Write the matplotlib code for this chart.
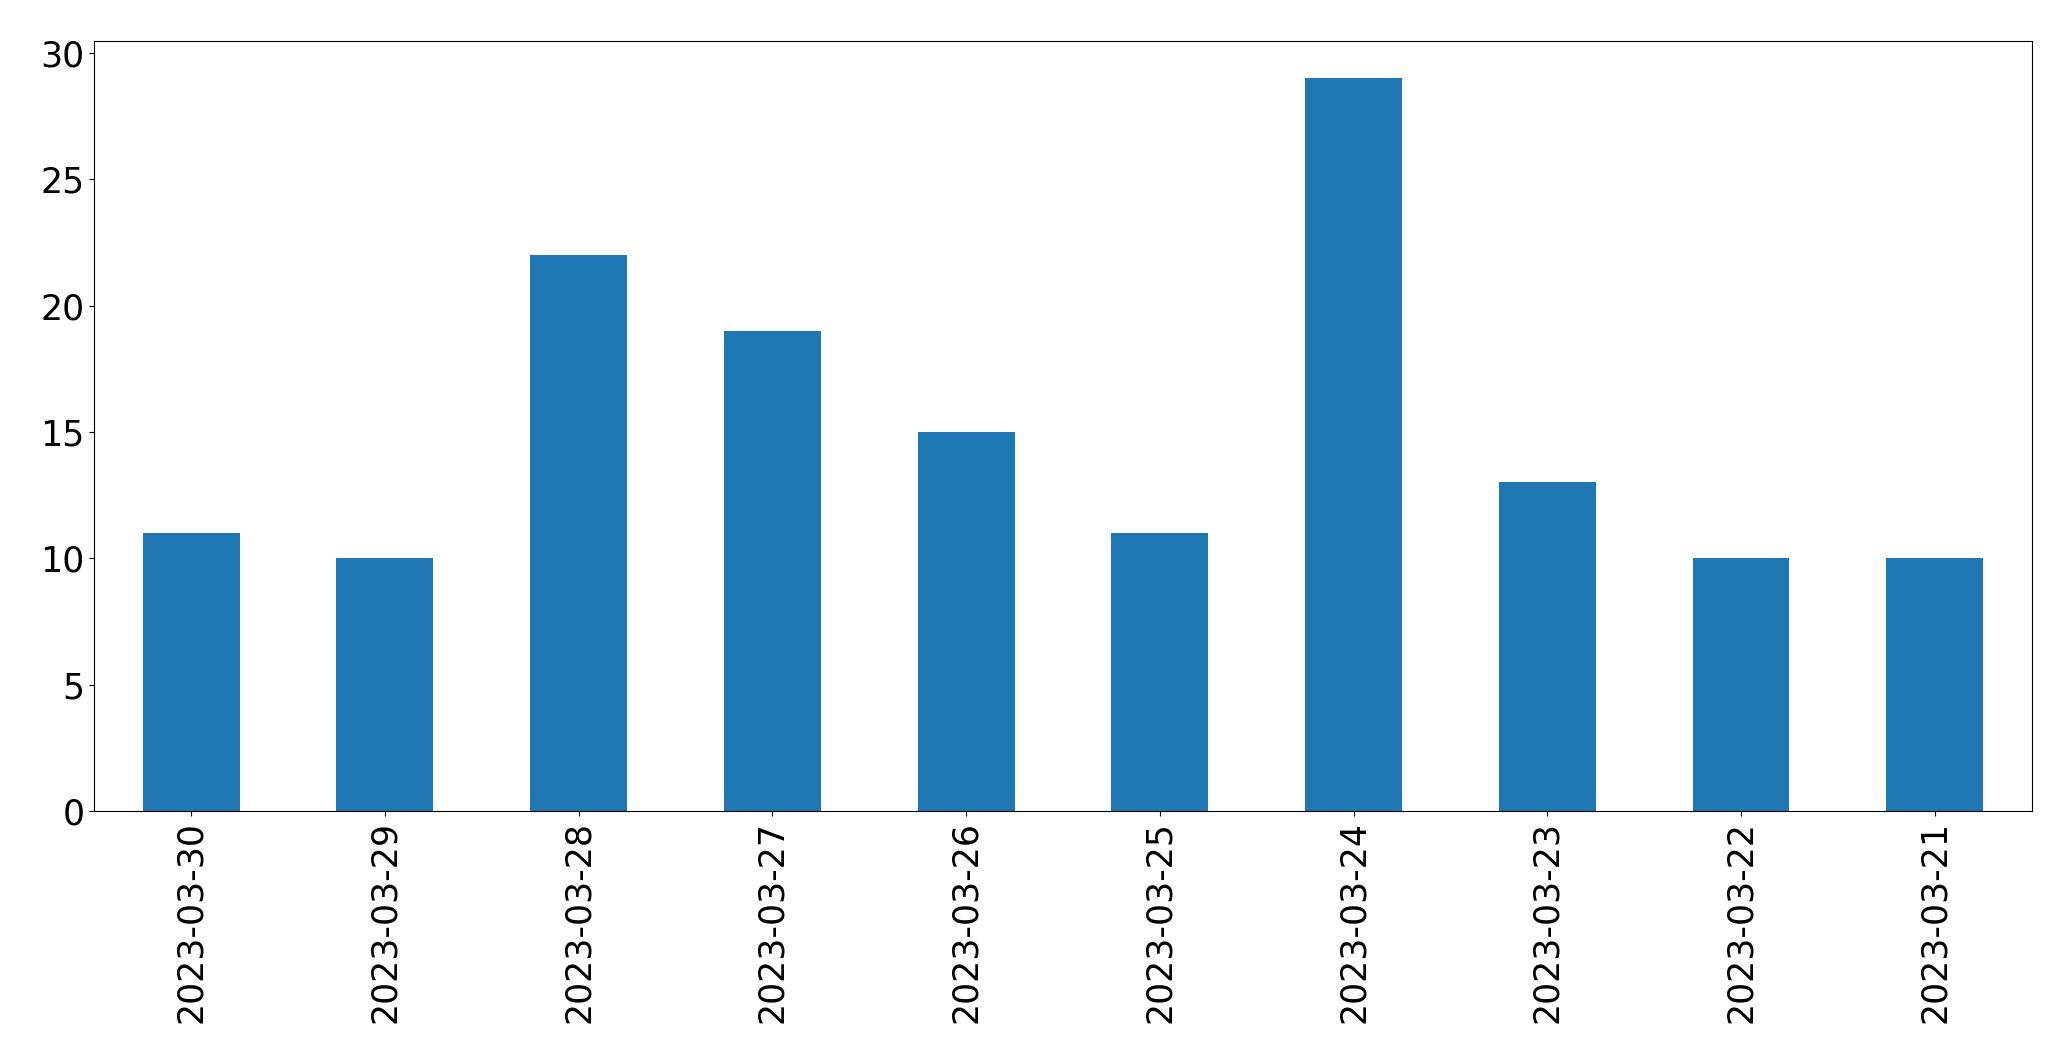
import pandas as pd
import matplotlib
matplotlib.use("Agg")
from matplotlib import pyplot as plt

dates = ["2023-03-30", "2023-03-29", "2023-03-28", "2023-03-27", "2023-03-26",
         "2023-03-25", "2023-03-24", "2023-03-23", "2023-03-22", "2023-03-21"]
counts = [11, 10, 22, 19, 15, 11, 29, 13, 10, 10]

matplotlib.rc('font', size=25)

s = pd.Series(counts, index=dates)
fig, ax = plt.subplots(figsize=(20.71, 10.63), dpi=100)
s.plot(kind="bar", ax=ax, color="#1f77b4")
plt.subplots_adjust(left=0.0455, right=0.981, top=0.961, bottom=0.237)
fig.savefig("out.png", dpi=100)
